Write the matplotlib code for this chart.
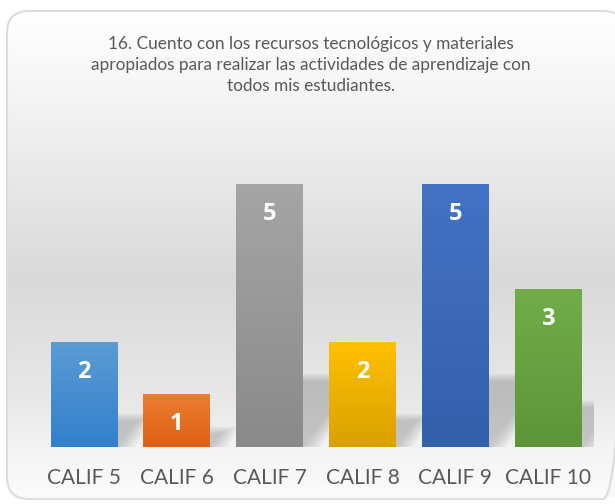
# %%
import numpy as np
from matplotlib import pyplot as plt
from matplotlib.patches import FancyBboxPatch, Polygon
from matplotlib.colors import LinearSegmentedColormap

plt.rcParams.update({"font.family": ["Lato", "DejaVu Sans"]})

# data
categories = ['CALIF 5', 'CALIF 6', 'CALIF 7', 'CALIF 8', 'CALIF 9', 'CALIF 10']
values = [2, 1, 5, 2, 5, 3]
title = ('16. Cuento con los recursos tecnológicos y materiales\n'
         'apropiados para realizar las actividades de aprendizaje con\n'
         'todos mis estudiantes.')

# top / bottom colour of each bar gradient
bar_top = ['#5b9bd5', '#ed7d31', '#a5a5a5', '#ffc000', '#4472c4', '#70ad47']
bar_bot = ['#3280cc', '#dc6115', '#8a8a8a', '#d9a100', '#3360ab', '#5e943a']
text_color = '#595959'

W, H = 615, 504
fig = plt.figure(figsize=(W / 100, H / 100), dpi=100)
fig.patch.set_facecolor('white')

# %% background card with vertical gradient
bg = fig.add_axes([0, 0, 1, 1])
bg.set_xlim(0, W)
bg.set_ylim(H, 0)
bg.axis('off')
card = FancyBboxPatch((7, 11), 618, 488, boxstyle='round,pad=0,rounding_size=22',
                      facecolor='none', edgecolor='#dcdcdc', linewidth=1.5, zorder=3)
bg.add_patch(card)
grad_stops = [(0.0, '#ffffff'), (0.15, '#f6f6f6'), (0.55, '#d9d9d9'),
              (0.80, '#e8e8e8'), (0.90, '#f4f4f4'), (1.0, '#fbfbfb')]
bg_cmap = LinearSegmentedColormap.from_list('bg', grad_stops)
im = bg.imshow(np.linspace(0, 1, 256).reshape(-1, 1), cmap=bg_cmap, aspect='auto',
               extent=(7, 625, 499, 11), zorder=1)
im.set_clip_path(card)

bg.text(311, 65, title, ha='center', va='center', fontsize=12.4,
        color=text_color, linespacing=1.39)

# %% bars
ax = fig.add_axes([0.0611, 0.1131, 0.9054, 0.625])
ax.patch.set_alpha(0)
x = np.arange(len(values))
ax.set_xlim(-0.5, len(values) - 0.5)
ax.set_ylim(0, 6)

# soft shadow behind each bar, skewed back to the right
for xi, v in zip(x, values):
    xl, xr = xi - 0.36, xi + 0.36
    h = 0.25 * v
    dx = 0.108 * v
    for k in range(9):
        g = 0.012 * k
        poly = Polygon([(xl, 0), (xr + 2 * g, 0),
                        (xr + dx + 2 * g, h + 1.5 * g), (xl + dx, h + 1.5 * g)],
                       closed=True, facecolor='#8c8c8c', edgecolor='none',
                       alpha=0.06, zorder=1)
        ax.add_patch(poly)

bars = ax.bar(x, values, width=0.72, color=bar_top, zorder=2)
for b, c0, c1 in zip(bars, bar_top, bar_bot):
    cm = LinearSegmentedColormap.from_list('g', [c1, c0])
    bx, by, bw, bh = b.get_x(), b.get_y(), b.get_width(), b.get_height()
    gi = ax.imshow(np.linspace(0, 1, 64).reshape(-1, 1), cmap=cm, origin='lower',
                   aspect='auto', extent=(bx, bx + bw, by, by + bh), zorder=3)
    gi.set_clip_path(b)

for xi, v in zip(x, values):
    ax.annotate(str(v), (xi, v), xytext=(0, -21.5), textcoords='offset points',
                ha='center', va='center', color='white', fontsize=17,
                fontweight='bold', family=['Open Sans', 'DejaVu Sans'], zorder=4)

ax.set_xlim(-0.5, len(values) - 0.5)
ax.set_ylim(0, 6)
ax.set_xticks(x)
ax.set_xticklabels(categories, fontsize=15, color=text_color)
ax.tick_params(axis='x', length=0, pad=15)
ax.set_yticks([])
for s in ax.spines.values():
    s.set_visible(False)

fig.savefig('out.png', dpi=100)
